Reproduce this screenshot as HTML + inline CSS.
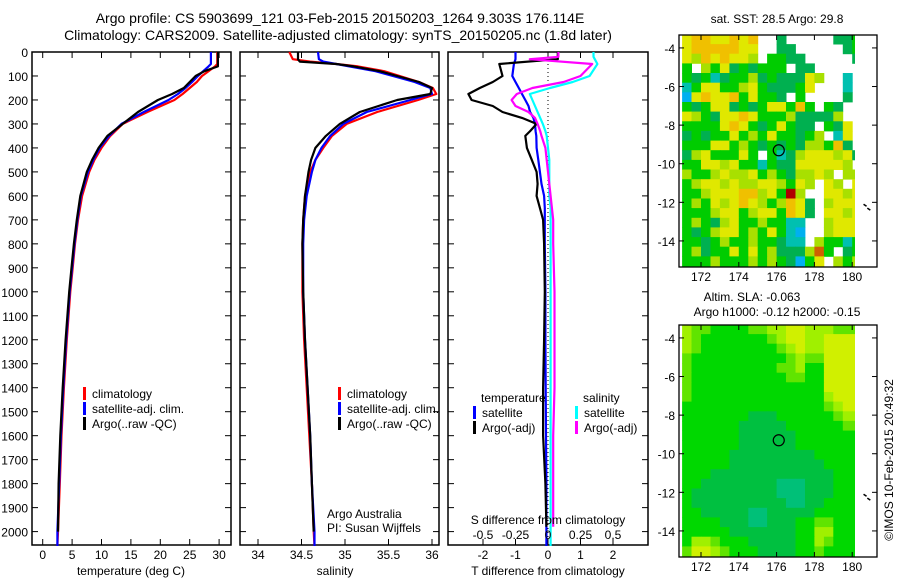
<!DOCTYPE html>
<html><head><meta charset="utf-8">
<style>
body{margin:0;background:#fff;}
svg{display:block;font-family:"Liberation Sans",sans-serif;}
text{fill:#000;}
</style></head>
<body>
<svg id="fig" width="900" height="580" viewBox="0 0 900 580" xmlns="http://www.w3.org/2000/svg">
<rect width="900" height="580" fill="#fff"/>
<text x="340" y="23" font-size="14" text-anchor="middle">Argo profile: CS 5903699_121 03-Feb-2015 20150203_1264 9.303S 176.114E</text>
<text x="338" y="40" font-size="14" text-anchor="middle">Climatology: CARS2009. Satellite-adjusted climatology: synTS_20150205.nc (1.8d later)</text>
<g id="g1"></g>
<g id="g2"></g>
<g id="g3"></g>
<g id="m1"></g>
<g id="m2"></g>
<text transform="translate(893,460) rotate(-90)" font-size="12" text-anchor="middle">©IMOS 10-Feb-2015 20:49:32</text>
</svg>
<script>
// ---- profile data ----
const tDepth=[0,50,60,80,100,125,150,175,200,250,300,350,400,450,500,600,700,800,900,1000,1200,1400,1600,1800,2000,2060];
const tClim=[29.7,29.7,29.3,28.2,27.1,26.2,25.0,23.8,22.4,17.8,13.6,11.5,10.0,8.8,7.9,6.7,6.0,5.5,5.1,4.7,4.1,3.6,3.2,2.9,2.6,2.5];
const tSat=[28.6,28.6,28.2,27.3,26.4,25.4,24.3,23.0,21.4,17.2,13.4,11.3,9.7,8.6,7.7,6.5,5.9,5.4,5.0,4.6,4.0,3.5,3.1,2.8,2.5,2.5];
const tArgo=[29.8,29.8,29.8,27.5,26.0,25.0,24.0,22.0,19.6,16.2,13.6,11.0,9.5,8.4,7.5,6.4,5.8,5.3,4.9,4.5,3.9,3.4,3.0,2.7,2.6,null];
const sDepth=[0,30,40,50,60,80,100,125,150,175,200,250,300,350,400,450,500,600,700,800,1000,1200,1400,1600,1800,2000,2060];
const sClim=[34.36,34.40,34.6,34.9,35.15,35.45,35.63,35.85,36.01,36.05,35.84,35.37,35.02,34.85,34.75,34.66,34.60,34.54,34.52,34.51,34.51,34.53,34.56,34.59,34.62,34.64,34.65];
const sSat=[34.69,34.70,34.75,34.9,35.05,35.35,35.55,35.8,35.98,36.0,35.75,35.25,34.98,34.83,34.73,34.66,34.62,34.56,34.53,34.52,34.52,34.54,34.57,34.6,34.62,34.65,34.65];
const sArgo=[34.46,34.46,34.48,34.9,35.1,35.4,35.6,35.85,36.0,35.98,35.6,35.17,34.94,34.78,34.66,34.61,34.58,34.54,34.52,34.51,34.52,34.54,34.57,34.6,34.62,34.64,null];
const dDepth=[0,20,30,50,100,125,150,175,200,225,250,275,300,330,350,400,450,500,550,600,650,700,800,1000,1200,1400,1600,1800,1980,2060];
const dTSat=[-1.0,-1.0,-1.0,-1.05,-1.1,-1.0,-0.9,-0.8,-0.7,-0.6,-0.55,-0.45,-0.4,-0.38,-0.36,-0.35,-0.3,-0.25,-0.2,-0.12,-0.1,-0.1,-0.1,-0.08,-0.08,-0.07,-0.06,-0.05,-0.05,-0.05];
const dTArgo=[0.3,0.3,0.3,-1.5,-1.4,-1.7,-2.1,-2.45,-2.35,-1.7,-1.4,-0.8,-0.35,-0.55,-0.7,-0.65,-0.5,-0.35,-0.32,-0.35,-0.25,-0.15,-0.12,-0.1,-0.12,-0.15,-0.15,-0.08,-0.05,null];
const dSSat=[0.35,0.35,0.36,0.38,0.32,0.19,0.015,-0.14,-0.12,-0.1,-0.08,-0.06,-0.04,-0.02,-0.01,0.0,0.01,0.01,0.01,0.01,0.02,0.02,0.02,0.02,0.02,0.02,0.02,0.02,0.02,0.02];
const dSArgo=[0.08,0.08,-0.14,0.34,0.25,0.12,-0.12,-0.24,-0.28,-0.25,-0.15,-0.1,-0.08,-0.06,-0.05,-0.02,-0.01,0.0,0.01,0.02,0.03,0.04,0.04,0.05,0.05,0.05,0.04,0.04,0.04,null];
const depthTicks=[0,100,200,300,400,500,600,700,800,900,1000,1100,1200,1300,1400,1500,1600,1700,1800,1900,2000];
const tTicks=[0,5,10,15,20,25,30];
const sTicks=[34,34.5,35,35.5,36];
const sTickLabels=["34","34.5","35","35.5","36"];
const dTTicks=[-2,-1,0,1,2];
const dSTicks=[-0.5,-0.25,0,0.25,0.5];
const dSTickLabels=["-0.5","-0.25","0","0.25","0.5"];

// ---- map data ----
const mapLonTicks=[172,174,176,178,180];
const mapLatTicks=[-4,-6,-8,-10,-12,-14];
const argoLon=176.114, argoLat=-9.303;
const sstRows=[
"yooyyoyo..d.....ddg",
"yoooooyy..dd.....dg",
"yloyoyyl.ggdd.....d",
"g.lgydgdggg.dd.....",
"gdgcdggldgdddyl..c.",
"cgyygglygdddgy...c.",
"byoyyogyggd.g....d.",
"gdgyydgdgyygog.gd..",
"ylgdyyoyggglddddl..",
"ggggyoygdgygdd.gdy.",
"dgdggyglgyggdgl.cy.",
"gggyyglgdgdgdllgod.",
"dlygggyg.gcdlyyylyd",
"ggyylyggcgddyyyyyl.",
"lgglyllyglgdllyl.ll",
"glyylyllyylgyl.yl.y",
"gglyyyoolygrl..yyly",
"glgylyoylgloyd.lyyy",
"ggglyyglyygoyd.yyly",
"glgdlygglggcc..lyyy",
"gdglyyglgygcb..lyyy",
"ggdglgglggdcc.lggcg",
"gldggygygldddlOg.dg",
"ggglggglglgdbgy.lgl"];
const slaRows=[
"1223333221100111222",
"1233333332100110000",
"1233333333210110000",
"2333333333321220000",
"2333333333221330000",
"2333333333322330000",
"2333333333333330000",
"2333333333333331000",
"3333333333333332100",
"3333333444333333211",
"3333334444433333322",
"3333334444443333333",
"3333334444443333333",
"3333344444444433333",
"3333344444444443333",
"3334444444444444333",
"3344444444555444333",
"3444444444555444333",
"3444444444455443333",
"3344444554444433333",
"3333444554443322333",
"3333344444443311333",
"3112333444443312333",
"2001233344443323333"];

const NS="http://www.w3.org/2000/svg";
function mk(parent,tag,attrs,txt){const e=document.createElementNS(NS,tag);for(const k in attrs)e.setAttribute(k,attrs[k]);if(txt!==undefined)e.textContent=txt;parent.appendChild(e);return e;}

const TOP=52,BOT=545;
function yD(d){return TOP+d*0.2398;}

function frame(g,x0,x1){
  const r=mk(g,'rect',{x:x0,y:TOP,width:x1-x0,height:BOT-TOP,fill:'none',stroke:'#000','stroke-width':1.5});
  
  
  depthTicks.forEach(d=>{
    mk(g,'line',{x1:x0,x2:x0+6,y1:yD(d),y2:yD(d),stroke:'#000'});
    mk(g,'line',{x1:x1-6,x2:x1,y1:yD(d),y2:yD(d),stroke:'#000'});
  });
}
function series(g,xf,depth,vals,color,name){
  let d='',pen=false;
  for(let i=0;i<depth.length;i++){
    if(vals[i]===null){pen=false;continue;}
    d+=(pen?'L':'M')+xf(vals[i]).toFixed(1)+' '+yD(depth[i]).toFixed(1)+' ';pen=true;
  }
  const p=mk(g,'path',{d:d,fill:'none',stroke:color,'stroke-width':2.2,'stroke-linejoin':'round'});
  
  
}
function legend(g,x,y,color,label,name){
  mk(g,'rect',{x:x,y:y-10,width:3,height:13,fill:color});
  const t=mk(g,'text',{x:x+9,y:y+1,'font-size':12},label);
  
  
}

const g1=document.getElementById('g1');
depthTicks.forEach(d=>{
  const t=mk(g1,'text',{x:28,y:yD(d)+5,'font-size':12,'text-anchor':'end'},String(d));
  
  
});

const xT=v=>42.7+v*5.88;
frame(g1,32,231);
tTicks.forEach(v=>{
  mk(g1,'line',{x1:xT(v),x2:xT(v),y1:BOT,y2:BOT-6,stroke:'#000'});
  mk(g1,'line',{x1:xT(v),x2:xT(v),y1:TOP,y2:TOP+6,stroke:'#000'});
  const t=mk(g1,'text',{x:xT(v),y:559,'font-size':12,'text-anchor':'middle'},String(v));
  
  
});
series(g1,xT,tDepth,tClim,'#f00','temperature-climatology-line');
series(g1,xT,tDepth,tSat,'#00f','temperature-satellite-line');
series(g1,xT,tDepth,tArgo,'#000','temperature-argo-line');
legend(g1,83,397,'#f00','climatology','legend-climatology');
legend(g1,83,412,'#00f','satellite-adj. clim.','legend-satellite');
legend(g1,83,427,'#000','Argo(..raw -QC)','legend-argo');
mk(g1,'text',{x:131,y:575,'font-size':12,'text-anchor':'middle',},'temperature (deg C)');

const g2=document.getElementById('g2');
const xS=v=>258+(v-34)*87;
frame(g2,240,439);
sTicks.forEach((v,i)=>{
  mk(g2,'line',{x1:xS(v),x2:xS(v),y1:BOT,y2:BOT-6,stroke:'#000'});
  mk(g2,'line',{x1:xS(v),x2:xS(v),y1:TOP,y2:TOP+6,stroke:'#000'});
  const t=mk(g2,'text',{x:xS(v),y:559,'font-size':12,'text-anchor':'middle'},sTickLabels[i]);
  
  
});
series(g2,xS,sDepth,sClim,'#f00','salinity-climatology-line');
series(g2,xS,sDepth,sSat,'#00f','salinity-satellite-line');
series(g2,xS,sDepth,sArgo,'#000','salinity-argo-line');
legend(g2,338,397,'#f00','climatology','legend-climatology-s');
legend(g2,338,412,'#00f','satellite-adj. clim.','legend-satellite-s');
legend(g2,338,427,'#000','Argo(..raw -QC)','legend-argo-s');
mk(g2,'text',{x:327,y:518,'font-size':12,},'Argo Australia');
mk(g2,'text',{x:327,y:532,'font-size':12,},'PI: Susan Wijffels');
mk(g2,'text',{x:335,y:575,'font-size':12,'text-anchor':'middle',},'salinity');

const g3=document.getElementById('g3');
const xDT=v=>548+v*32.5;
const xDS=v=>548+v*130;
frame(g3,448,648);
mk(g3,'line',{x1:548,x2:548,y1:TOP,y2:BOT,stroke:'#000','stroke-dasharray':'1,3'});
dTTicks.forEach(v=>{
  mk(g3,'line',{x1:xDT(v),x2:xDT(v),y1:BOT,y2:BOT-6,stroke:'#000'});
  mk(g3,'line',{x1:xDT(v),x2:xDT(v),y1:TOP,y2:TOP+6,stroke:'#000'});
  const t=mk(g3,'text',{x:xDT(v),y:559,'font-size':12,'text-anchor':'middle'},String(v));
  
  
});
series(g3,xDT,dDepth,dTSat,'#00f','t-diff-satellite-line');
series(g3,xDT,dDepth,dTArgo,'#000','t-diff-argo-line');
series(g3,xDS,dDepth,dSSat,'#0ff','s-diff-satellite-line');
series(g3,xDS,dDepth,dSArgo,'#f0f','s-diff-argo-line');
mk(g3,'text',{x:481,y:402,'font-size':12,},'temperature');
mk(g3,'text',{x:583,y:402,'font-size':12,},'salinity');
legend(g3,473,416,'#00f','satellite','legend-t-satellite');
legend(g3,473,431,'#000','Argo(-adj)','legend-t-argo');
legend(g3,575,416,'#0ff','satellite','legend-s-satellite');
legend(g3,575,431,'#f0f','Argo(-adj)','legend-s-argo');
mk(g3,'text',{x:548,y:524,'font-size':12,'text-anchor':'middle',},'S difference from climatology');
dSTicks.forEach((v,i)=>{
  const t=mk(g3,'text',{x:xDS(v),y:539,'font-size':12,'text-anchor':'middle'},dSTickLabels[i]);
  
  
});
mk(g3,'text',{x:548,y:575,'font-size':12,'text-anchor':'middle',},'T difference from climatology');

const MX0=679,MX1=877;
const lonX=lon=>701+(lon-172)*18.9;
const sstCol={g:'#00cc00',d:'#00b050',l:'#a8e000',y:'#e0e800',o:'#f0c000',O:'#d06000',c:'#00c0b0',b:'#00b0f0',r:'#b00000'};
const slaCol=['#d0f000','#a0f000','#60e400','#00d800','#00c040','#00c078'];
function drawMap(id,top,latY,rows,colorOf,name){
  const g=document.getElementById(id);
  const cp=mk(g,'clipPath',{id:id+'c'});
  mk(cp,'rect',{x:MX0,y:top,width:lonX(180.15)-MX0,height:232});
  const cells=mk(g,'g',{'clip-path':'url(#'+id+'c)'});
  rows.forEach((row,i)=>{
    for(let j=0;j<row.length;j++){
      const c=colorOf(row.charAt(j));
      if(!c)continue;
      const lat0=-3.3-0.5*i, lon0=171+0.5*j;
      const r=mk(cells,'rect',{x:lonX(lon0).toFixed(1),y:latY(lat0).toFixed(1),width:9.9,height:10.1,fill:c});
      
      
    }
  });
  const f=mk(g,'rect',{x:MX0,y:top,width:MX1-MX0,height:232,fill:'none',stroke:'#000','stroke-width':1.3});
  
  
  mapLonTicks.forEach(v=>{
    mk(g,'line',{x1:lonX(v),x2:lonX(v),y1:top+232,y2:top+227,stroke:'#000'});
    mk(g,'line',{x1:lonX(v),x2:lonX(v),y1:top,y2:top+5,stroke:'#000'});
    const t=mk(g,'text',{x:lonX(v),y:top+246,'font-size':12,'text-anchor':'middle'},String(v));
    
    
  });
  mapLatTicks.forEach(v=>{
    mk(g,'line',{x1:MX0,x2:MX0+5,y1:latY(v),y2:latY(v),stroke:'#000'});
    mk(g,'line',{x1:MX1-5,x2:MX1,y1:latY(v),y2:latY(v),stroke:'#000'});
    const t=mk(g,'text',{x:675,y:latY(v)+5,'font-size':12,'text-anchor':'end'},String(v));
    
    
  });
  const c=mk(g,'circle',{cx:lonX(argoLon),cy:latY(argoLat),r:5.5,fill:'none',stroke:'#000','stroke-width':1.2});
  
  
  [[180.6,-12.1],[180.8,-12.3]].forEach(p=>{
    mk(g,'line',{x1:lonX(p[0]),y1:latY(p[1]),x2:lonX(p[0])+3,y2:latY(p[1])+2,stroke:'#000','stroke-width':1.5});
  });
}
drawMap('m1',35,lat=>35+(-3.33-lat)*19.3,sstRows,ch=>sstCol[ch],'sst-map');
drawMap('m2',325,lat=>325+(-3.33-lat)*19.3,slaRows,ch=>slaCol[+ch],'sla-map');
const m1=document.getElementById('m1');
mk(m1,'text',{x:777,y:23,'font-size':12,'text-anchor':'middle',},'sat. SST: 28.5 Argo: 29.8');
const m2=document.getElementById('m2');
mk(m2,'text',{x:752,y:301,'font-size':12,'text-anchor':'middle',},'Altim. SLA: -0.063');
mk(m2,'text',{x:777,y:316,'font-size':12,'text-anchor':'middle',},'Argo h1000: -0.12 h2000: -0.15');
</script>
</body></html>
